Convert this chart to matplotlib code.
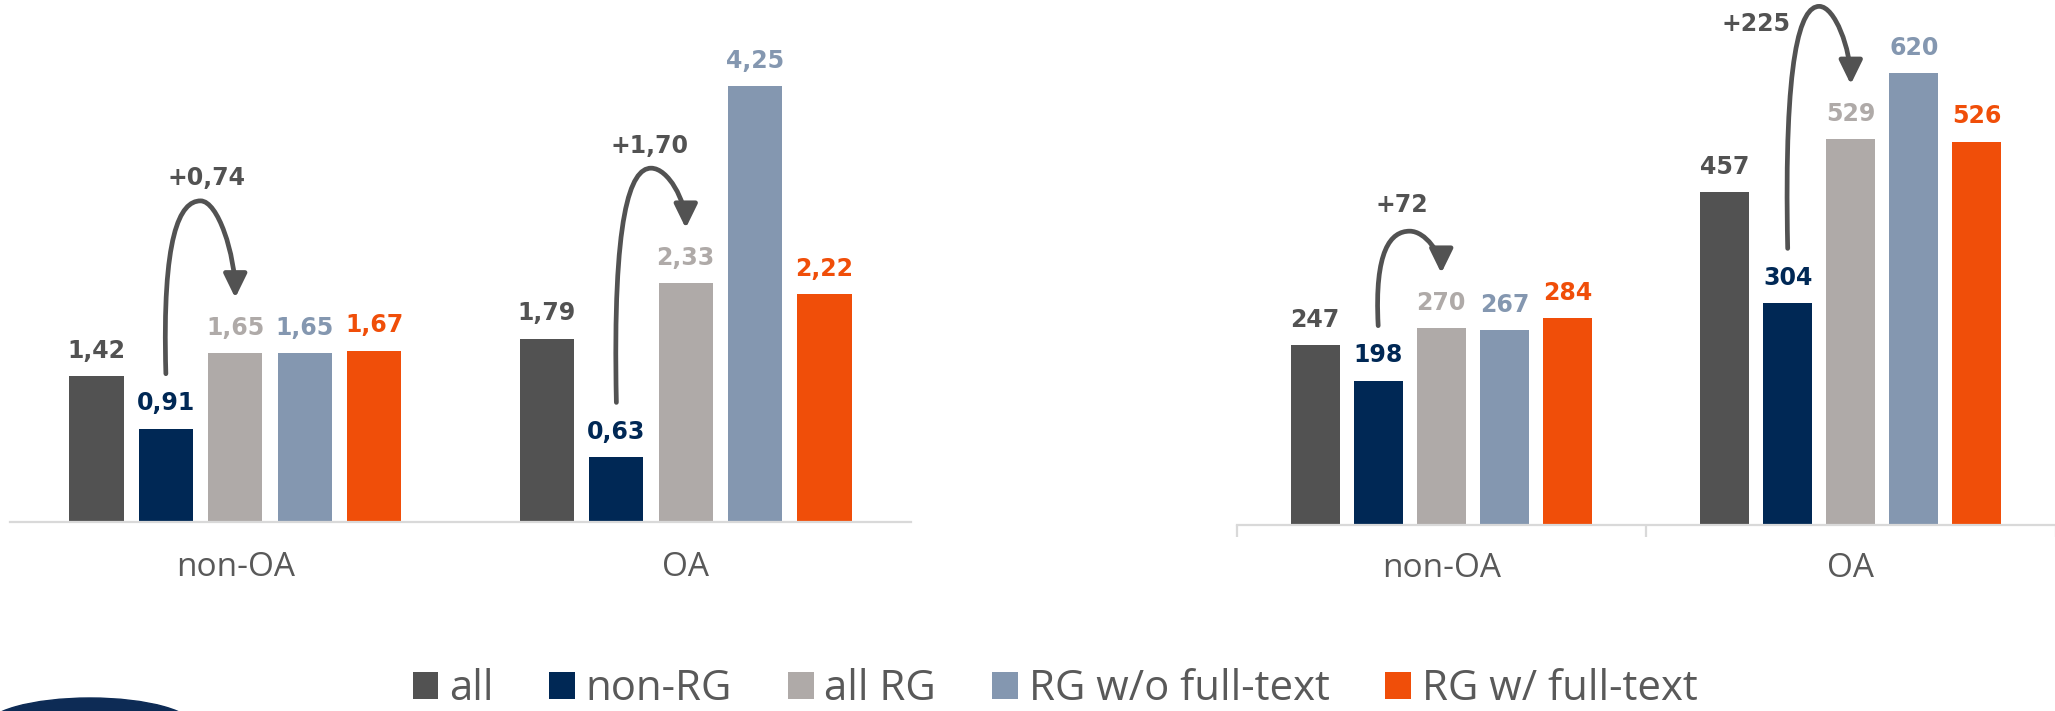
# Bar charts: citations per paper (left) and reads per paper (right), OA vs non-OA

import matplotlib
matplotlib.use('Agg')
import matplotlib.pyplot as plt
from matplotlib.patches import FancyArrowPatch, Patch, Ellipse
from matplotlib.path import Path

# data
groups = ['non-OA', 'OA']
series = ['all', 'non-RG', 'all RG', 'RG w/o full-text', 'RG w/ full-text']

left_all = [1.42, 1.79]
left_non_rg = [0.91, 0.63]
left_all_rg = [1.65, 2.33]
left_rg_wo = [1.65, 4.25]
left_rg_w = [1.67, 2.22]

right_all = [247, 457]
right_non_rg = [198, 304]
right_all_rg = [270, 529]
right_rg_wo = [267, 620]
right_rg_w = [284, 526]

colors = ['#525252', '#002855', '#afaaa8', '#8497b0', '#f04e09']
text_grey = '#595959'
axis_grey = '#d9d9d9'

W, H = 2055, 711
fig = plt.figure(figsize=(W / 100, H / 100), dpi=100)
ax1 = fig.add_axes([10 / W, (H - 522) / H, 901 / W, 522 / H])
ax2 = fig.add_axes([1236.5 / W, (H - 525) / H, 819 / W, 525 / H])

step = 0.154
width = 0.12


def fmt_left(v):
    return f"{v:.2f}".replace('.', ',')


def fmt_right(v):
    return f"{v:.0f}"


def bars(ax, data, fmt, ymax, label_drop):
    ax.set_xlim(-0.5, 1.5)
    ax.set_ylim(0, ymax)
    for s, vals in enumerate(data):
        xs = [g + (s - 2) * step for g in range(len(groups))]
        ax.bar(xs, vals, width=width, color=colors[s], zorder=2)
        for x, v in zip(xs, vals):
            ax.annotate(fmt(v), xy=(x, v), xytext=(0, 13.2), textcoords='offset points',
                        ha='center', va='baseline', fontsize=17, fontweight='bold',
                        family='DejaVu Sans', color=colors[s])
    for sp in ['left', 'right', 'top']:
        ax.spines[sp].set_visible(False)
    ax.spines['bottom'].set_color(axis_grey)
    ax.spines['bottom'].set_linewidth(1.6)
    ax.set_yticks([])
    ax.set_xticks([])
    for g, name in enumerate(groups):
        ax.annotate(name, xy=(g, 0), xycoords=('data', 'axes fraction'),
                    xytext=(0, -label_drop), textcoords='offset points',
                    ha='center', va='center', fontsize=24, family='Open Sans',
                    color=text_grey)


def jump(ax, g, v_from, v_to, text, rise, lab_dx, lab_dy):
    # curved arrow from the non-RG bar to the all-RG bar (all in pixels)
    x0, y0 = ax.transData.transform((g - step, v_from))
    x3, y3 = ax.transData.transform((g, v_to))
    y0 += 55
    y3 += 55
    xp = (x0 + x3) / 2
    yp = y3 + rise
    verts = [(x0, y0),
             (x0 - 4, y0 + 0.8 * (yp - y0)),
             (xp - 0.6 * (xp - x0), yp),
             (xp, yp),
             (xp + 0.5 * (x3 - xp), yp),
             (x3, y3 + 0.45 * (yp - y3)),
             (x3, y3)]
    codes = [Path.MOVETO] + [Path.CURVE4] * 6
    inv = ax.transData.inverted()
    path = Path(inv.transform(verts), codes)
    arr = FancyArrowPatch(path=path, arrowstyle='-|>,head_length=0.45,head_width=0.22',
                          mutation_scale=32, lw=3.4, color='#525252',
                          transform=ax.transData, clip_on=False, zorder=3)
    ax.add_patch(arr)
    lx, ly = inv.transform((xp + lab_dx, yp + lab_dy))
    ax.text(lx, ly, text, ha='center', va='center', fontsize=17,
            fontweight='bold', family='DejaVu Sans', color='#525252')


left_data = [left_all, left_non_rg, left_all_rg, left_rg_wo, left_rg_w]
right_data = [right_all, right_non_rg, right_all_rg, right_rg_wo, right_rg_w]

bars(ax1, left_data, fmt_left, 522 / 102.5, 33)
bars(ax2, right_data, fmt_right, 525 / 0.729, 31)

# small ticks between the categories on the right chart
ax2.set_xticks([-0.5, 0.5, 1.5], minor=True)
ax2.tick_params(axis='x', which='minor', length=8.6, width=1.6, color=axis_grey)

# arrows with the gain of all RG over non-RG
rises = [[97, 60], [42, 78]]
label_offsets = [[(6, 23), (-2, 22)], [(-8, 26), (-63, -18)]]
for ax, fmt, data, r, offs in [(ax1, fmt_left, left_data, rises[0], label_offsets[0]),
                               (ax2, fmt_right, right_data, rises[1], label_offsets[1])]:
    for g in range(len(groups)):
        diff = data[2][g] - data[1][g]
        jump(ax, g, data[1][g], data[2][g], '+' + fmt(diff), r[g],
             offs[g][0], offs[g][1])

# legend along the bottom
handles = [Patch(facecolor=c, edgecolor='none') for c in colors]
fig.legend(handles, series, loc='center', bbox_to_anchor=(1055 / W, 1 - 689 / H),
           ncol=5, frameon=False, prop={'family': 'Open Sans', 'size': 30.2},
           labelcolor=text_grey, handlelength=0.61, handleheight=0.63,
           handletextpad=0.26, columnspacing=1.33, borderpad=0, borderaxespad=0)

# piece of a logo cut off at the bottom left corner
fig.patches.append(Ellipse((90 / W, 1 - 728 / H), 211 / W, 60 / H,
                           transform=fig.transFigure, color='#0d2b55'))

fig.savefig('out.png', dpi=100)
